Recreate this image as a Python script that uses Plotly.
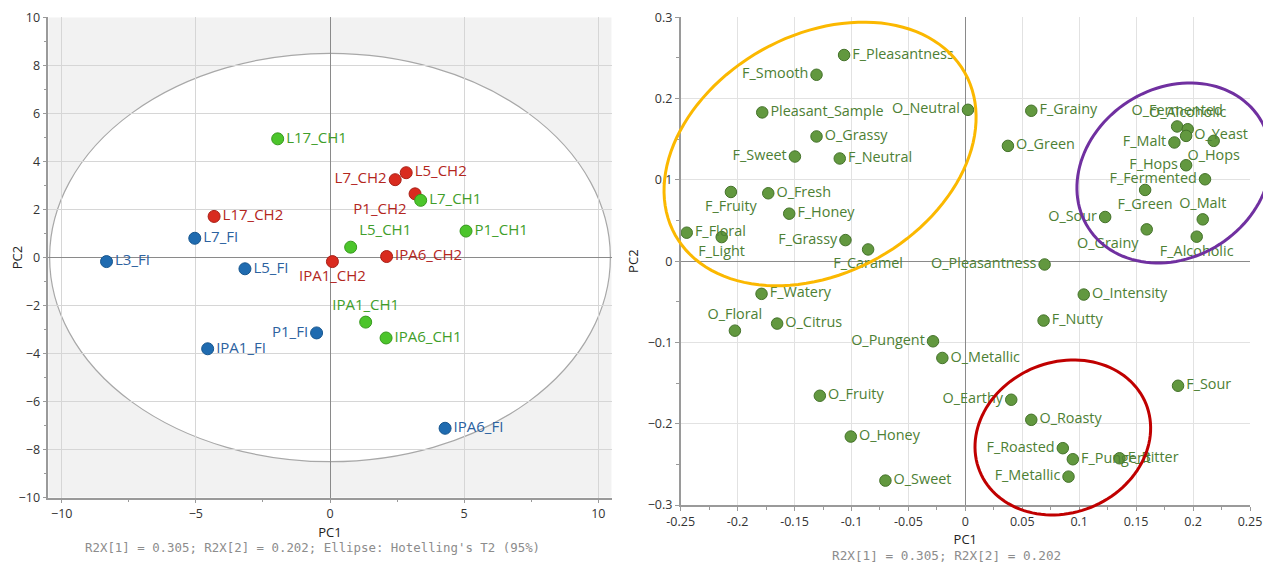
import numpy as np
import plotly.graph_objects as go

# ---------------- data: scores plot (left) ----------------
fi_names = ["L3_FI", "L7_FI", "L5_FI", "IPA1_FI", "P1_FI", "IPA6_FI"]
fi_pc1 = [-8.33, -5.04, -3.17, -4.56, -0.50, 4.29]
fi_pc2 = [-0.17, 0.80, -0.47, -3.80, -3.14, -7.11]

ch2_names = ["L17_CH2", "L7_CH2", "L5_CH2", "P1_CH2", "IPA6_CH2", "IPA1_CH2"]
ch2_pc1 = [-4.32, 2.43, 2.84, 3.17, 2.11, 0.09]
ch2_pc2 = [1.71, 3.24, 3.53, 2.65, 0.04, -0.17]

ch1_names = ["L17_CH1", "L7_CH1", "P1_CH1", "L5_CH1", "IPA1_CH1", "IPA6_CH1"]
ch1_pc1 = [-1.95, 3.38, 5.07, 0.77, 1.33, 2.09]
ch1_pc2 = [4.94, 2.38, 1.10, 0.43, -2.69, -3.35]

# ---------------- data: loadings plot (right) ----------------
attr_names = [
    "F_Pleasantness", "F_Smooth", "Pleasant_Sample", "O_Neutral", "O_Grassy",
    "F_Sweet", "F_Neutral", "F_Fruity", "O_Fresh", "F_Honey", "F_Floral",
    "F_Light", "F_Grassy", "F_Caramel", "F_Grainy", "O_Green", "O_Fermented",
    "O_Alcoholic", "O_Yeast", "O_Hops", "F_Malt", "F_Hops", "F_Fermented",
    "F_Green", "O_Malt", "O_Grainy", "F_Alcoholic", "O_Sour", "O_Pleasantness",
    "F_Watery", "O_Floral", "O_Citrus", "O_Pungent", "O_Metallic", "O_Fruity",
    "O_Honey", "O_Sweet", "O_Intensity", "F_Nutty", "F_Sour", "O_Earthy",
    "O_Roasty", "F_Roasted", "F_Pungent", "F_Bitter", "F_Metallic",
]
attr_pc1 = [
    -0.1065, -0.1307, -0.1784, 0.0023, -0.1307,
    -0.1497, -0.1103, -0.2059, -0.1731, -0.1547, -0.2447,
    -0.2140, -0.1053, -0.0854, 0.0579, 0.0374, 0.1860,
    0.1953, 0.1939, 0.2181, 0.1836, 0.1939, 0.2105,
    0.1579, 0.2085, 0.1593, 0.2032, 0.1228, 0.0696,
    -0.1790, -0.2024, -0.1653, -0.0284, -0.0202, -0.1278,
    -0.1006, -0.0702, 0.1040, 0.0687, 0.1868, 0.0403,
    0.0579, 0.0856, 0.0944, 0.1354, 0.0906,
]
attr_pc2 = [
    0.2536, 0.2293, 0.1830, 0.1862, 0.1534,
    0.1287, 0.1263, 0.0851, 0.0835, 0.0584, 0.0350,
    0.0296, 0.0259, 0.0144, 0.1850, 0.1418, 0.1657,
    0.1623, 0.1541, 0.1480, 0.1460, 0.1180, 0.1007,
    0.0876, 0.0514, 0.0391, 0.0301, 0.0543, -0.0041,
    -0.0402, -0.0855, -0.0768, -0.0986, -0.1191, -0.1656,
    -0.2158, -0.2700, -0.0411, -0.0731, -0.1533, -0.1705,
    -0.1952, -0.2301, -0.2437, -0.2425, -0.2651,
]

left_x_ticks = [-10, -5, 0, 5, 10]
left_y_ticks = [-10, -8, -6, -4, -2, 0, 2, 4, 6, 8, 10]
right_x_ticks = [-0.25, -0.2, -0.15, -0.1, -0.05, 0, 0.05, 0.1, 0.15, 0.2, 0.25]
right_x_labels = ["-0.25", "-0.2", "-0.15", "-0.1", "-0.05", "0", "0.05", "0.1", "0.15", "0.2", "0.25"]
right_y_ticks = [-0.3, -0.2, -0.1, 0, 0.1, 0.2, 0.3]
right_y_labels = ["\u22120.3", "\u22120.2", "\u22120.1", "0", "0.1", "0.2", "0.3"]

# ---------------- styles / geometry ----------------
OFF = 8                      # page body margin in the browser
W, H = 1271 - OFF, 563 - OFF
FONT = "Open Sans"
# plot areas in reference-window pixels: x0, x1, ytop, ybottom
LEFT_PX = (48.3, 611.7, 17.3, 497.7)
RIGHT_PX = (680.7, 1250.0, 17.3, 505.0)


def px2paper(px, py):
    return (px - OFF) / W, 1 - (py - OFF) / H


left_pos = {
    "L7_CH2": "middle left", "P1_CH2": "bottom left", "L5_CH1": "top right",
    "IPA1_CH2": "bottom center", "IPA1_CH1": "top center", "P1_FI": "middle left",
}
right_pos = {
    "F_Smooth": "middle left", "O_Neutral": "middle left", "F_Sweet": "middle left",
    "F_Fruity": "bottom center", "F_Light": "bottom center", "F_Grassy": "middle left",
    "F_Caramel": "bottom center", "O_Fermented": "top center", "O_Alcoholic": "top center",
    "O_Hops": "bottom center", "F_Malt": "middle left", "F_Hops": "middle left",
    "F_Fermented": "middle left", "F_Green": "bottom center", "O_Malt": "top center",
    "O_Grainy": "bottom left", "F_Alcoholic": "bottom center", "O_Sour": "middle left",
    "O_Pleasantness": "middle left", "O_Floral": "top center", "O_Pungent": "middle left",
    "O_Earthy": "middle left", "F_Roasted": "middle left", "F_Metallic": "middle left",
}

groups = [
    (fi_names, fi_pc1, fi_pc2, "#1F6BB0", "#17568F", "#2C62A0"),
    (ch2_names, ch2_pc1, ch2_pc2, "#D92B1F", "#A91F16", "#B3261D"),
    (ch1_names, ch1_pc1, ch1_pc2, "#4CC52B", "#37991D", "#3F9E2A"),
]

fig = go.Figure()
for names, xs, ys, fill, edge, tcol in groups:
    fig.add_trace(go.Scatter(
        x=xs, y=ys, text=names, mode="markers+text",
        textposition=[left_pos.get(n, "middle right") for n in names],
        marker=dict(size=12, color=fill, line=dict(color=edge, width=1)),
        textfont=dict(family=FONT, size=15, color=tcol),
        xaxis="x", yaxis="y", showlegend=False, cliponaxis=False,
    ))

fig.add_trace(go.Scatter(
    x=attr_pc1, y=attr_pc2, text=attr_names, mode="markers+text",
    textposition=[right_pos.get(n, "middle right") for n in attr_names],
    marker=dict(size=11.5, color="#62983F", line=dict(color="#44722A", width=1)),
    textfont=dict(family=FONT, size=14.4, color="#4D8034"),
    xaxis="x2", yaxis="y2", showlegend=False, cliponaxis=False,
))


def dom_x(p):
    return (px2paper(p[0], 0)[0], px2paper(p[1], 0)[0])


def dom_y(p):
    return (px2paper(0, p[3])[1], px2paper(0, p[2])[1])


axis_common = dict(
    showline=True, linecolor="#9a9a9a", linewidth=1.5, ticks="outside",
    ticklen=4, tickcolor="#9a9a9a", zeroline=True, zerolinecolor="#8a8a8a",
    zerolinewidth=1.2, tickfont=dict(family=FONT, size=12.5, color="#333333"),
    automargin=False,
)
title_font = dict(family=FONT, size=13, color="#222")

fig.update_layout(
    width=W, height=H, margin=dict(l=0, r=0, t=0, b=0, pad=0),
    paper_bgcolor="white", plot_bgcolor="white",
    xaxis=dict(domain=dom_x(LEFT_PX), range=[-10.5, 10.5], tickvals=left_x_ticks,
               showgrid=True, gridcolor="#d6d6d6", anchor="y",
               minor=dict(ticks="outside", ticklen=3, dtick=2.5, tickcolor="#9a9a9a", showgrid=False),
               title=dict(text="PC1", font=title_font, standoff=6), **axis_common),
    yaxis=dict(domain=dom_y(LEFT_PX), range=[-10, 10], tickvals=left_y_ticks,
               showgrid=True, gridcolor="#d6d6d6", anchor="x",
               minor=dict(ticks="outside", ticklen=3, dtick=1, tickcolor="#9a9a9a", showgrid=False),
               title=dict(text="PC2", font=title_font, standoff=6), **axis_common),
    xaxis2=dict(domain=dom_x(RIGHT_PX), range=[-0.25, 0.25], tickvals=right_x_ticks,
                ticktext=right_x_labels, showgrid=True, gridcolor="#e2e2e2", anchor="y2",
                minor=dict(ticks="outside", ticklen=3, dtick=0.025, tickcolor="#9a9a9a", showgrid=False),
                title=dict(text="PC1", font=title_font, standoff=4), **axis_common),
    yaxis2=dict(domain=dom_y(RIGHT_PX), range=[-0.3, 0.3], tickvals=right_y_ticks,
                ticktext=right_y_labels, showgrid=True, gridcolor="#e2e2e2", anchor="x2",
                minor=dict(ticks="outside", ticklen=3, dtick=0.05, tickcolor="#9a9a9a", showgrid=False),
                title=dict(text="PC2", font=title_font, standoff=6), **axis_common),
)

# left subplot: grey background outside Hotelling's T2 ellipse
fig.add_shape(type="rect", xref="x", yref="y", x0=-10.5, x1=10.5, y0=-10, y1=10,
              fillcolor="#f2f2f2", line=dict(width=0), layer="below")
fig.add_shape(type="circle", xref="x", yref="y", x0=-10.45, x1=10.45, y0=-8.5, y1=8.5,
              fillcolor="white", line=dict(color="#a8a8a8", width=1.2), layer="below")


# right subplot: highlighted clusters (paper coords so they may overflow the plot area)
def r_px(x, y):
    x0, x1, yt, yb = RIGHT_PX
    px = x0 + (x + 0.25) / 0.5 * (x1 - x0)
    py = yt + (0.3 - y) / 0.6 * (yb - yt)
    return px, py


def ellipse_path(cx, cy, a, b, deg):
    cpx, cpy = r_px(cx, cy)
    th = np.radians(deg)
    t = np.linspace(0, 2 * np.pi, 121)
    px = cpx + a * np.cos(th) * np.cos(t) - b * np.sin(th) * np.sin(t)
    py = cpy - (a * np.sin(th) * np.cos(t) + b * np.cos(th) * np.sin(t))
    pts = []
    for x, y in zip(px, py):
        u, v = px2paper(x, y)
        pts.append(f"{u:.5f},{v:.5f}")
    return "M " + " L ".join(pts) + " Z"


for cx, cy, a, b, deg, col in [
    (-0.1276, 0.1319, 166, 119, 29.3, "#FBB800"),
    (0.1832, 0.1085, 101.7, 84.7, 32.8, "#7030A0"),
    (0.0856, -0.2169, 89.7, 75.3, 22.0, "#C00000"),
]:
    fig.add_shape(type="path", xref="paper", yref="paper", path=ellipse_path(cx, cy, a, b, deg),
                  line=dict(color=col, width=3), fillcolor="rgba(0,0,0,0)", layer="above")

cx1, cy1 = px2paper(312, 547.7)
fig.add_annotation(text="R2X[1] = 0.305; R2X[2] = 0.202; Ellipse: Hotelling's T2 (95%)",
                   xref="paper", yref="paper", x=cx1, y=cy1, showarrow=False,
                   xanchor="center", yanchor="middle",
                   font=dict(family="DejaVu Sans Mono", size=12.4, color="#8c8c8c"))
cx2, cy2 = px2paper(946.7, 555)
fig.add_annotation(text="R2X[1] = 0.305; R2X[2] = 0.202",
                   xref="paper", yref="paper", x=cx2, y=cy2, showarrow=False,
                   xanchor="center", yanchor="middle",
                   font=dict(family="DejaVu Sans Mono", size=12.7, color="#8c8c8c"))

fig.write_html("out.html")
